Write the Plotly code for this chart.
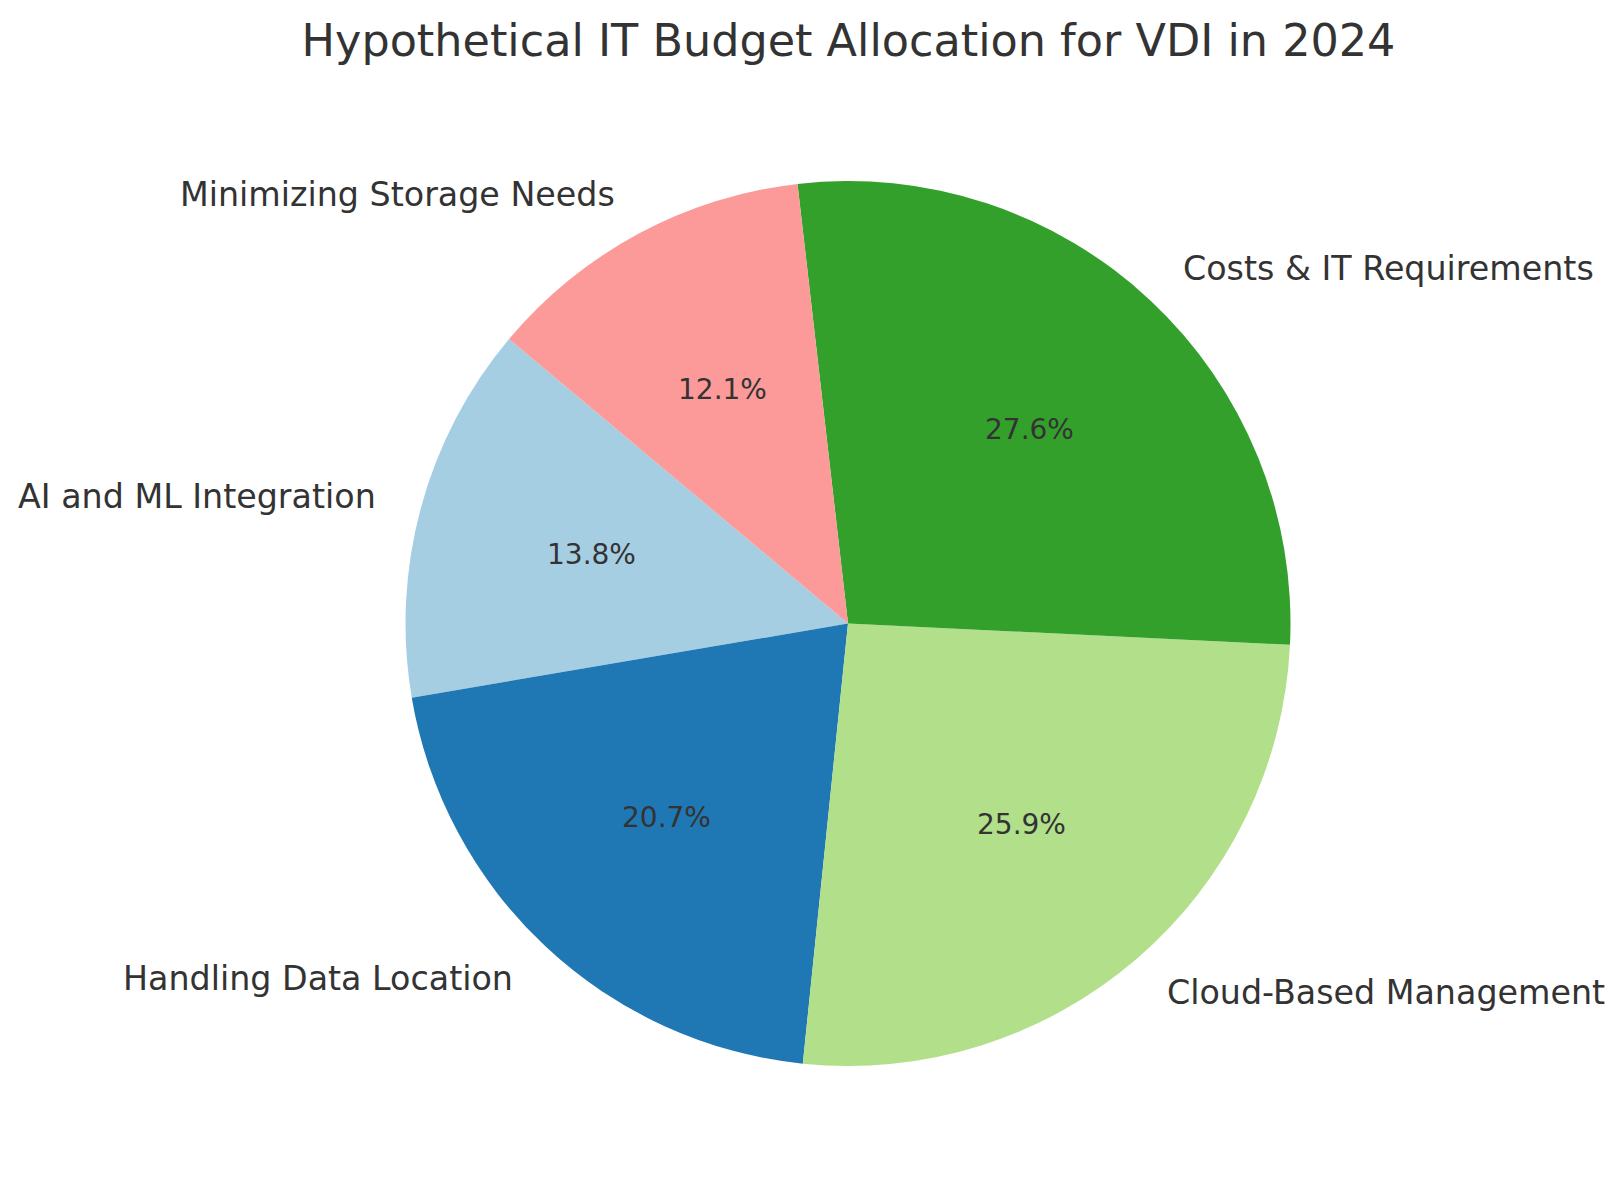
import math
import plotly.graph_objects as go

# budget shares (units) per topic, in drawing order
categories = ["AI and ML Integration", "Handling Data Location", "Cloud-Based Management",
              "Costs & IT Requirements", "Minimizing Storage Needs"]
values = [8, 12, 15, 16, 7]
colors = ["#a6cee3", "#1f78b4", "#b2df8a", "#33a02c", "#fb9a99"]

W, H = 1624, 1197
off = 8  # the page body has a default 8px margin
cx, cy, r = 848.0 - off, 623.5 - off, 442.5  # pie centre / radius in figure pixels
start = 140.0  # first slice starts here, counterclockwise

total = sum(values)
# plotly puts the first ccw slice on the clockwise side of `rotation`
rot = 90 - start - values[0] / total * 360

fig = go.Figure()
fig.add_trace(go.Pie(
    labels=categories, values=values, sort=False,
    direction="counterclockwise", rotation=rot,
    marker=dict(colors=colors, line=dict(width=0)),
    textinfo="none", hoverinfo="label+percent", showlegend=False,
    domain=dict(x=[(cx - r) / W, (cx + r) / W], y=[1 - (cy + r) / H, 1 - (cy - r) / H]),
))

# labels outside, percentages inside, placed like matplotlib's autopct
acc = 0
for name, v in zip(categories, values):
    mid = math.radians(start + (acc + v / 2) / total * 360)
    acc += v
    lx = cx + 1.1 * r * math.cos(mid)
    ly = cy - 1.1 * r * math.sin(mid)
    fig.add_annotation(x=lx / W, y=1 - ly / H, xref="paper", yref="paper",
                       text=name, showarrow=False,
                       xanchor="left" if math.cos(mid) > 0 else "right", yanchor="middle",
                       font=dict(size=33.3, color="#333333"))
    px = cx + 0.6 * r * math.cos(mid)
    py = cy - 0.6 * r * math.sin(mid)
    fig.add_annotation(x=px / W, y=1 - py / H, xref="paper", yref="paper",
                       text=f"{v / total * 100:.1f}%", showarrow=False,
                       xanchor="center", yanchor="middle",
                       font=dict(size=28, color="#333333"))

fig.update_layout(
    width=W, height=H,
    margin=dict(l=0, r=0, t=0, b=0),
    paper_bgcolor="white", plot_bgcolor="white",
    font=dict(family="DejaVu Sans", color="#333333"),
    title=dict(text="Hypothetical IT Budget Allocation for VDI in 2024",
               x=(848.5 - off) / W, xanchor="center", y=1 - (40.5 - off) / H, yanchor="middle",
               font=dict(size=44.5, color="#333333")),
)

fig.write_html("out.html")
